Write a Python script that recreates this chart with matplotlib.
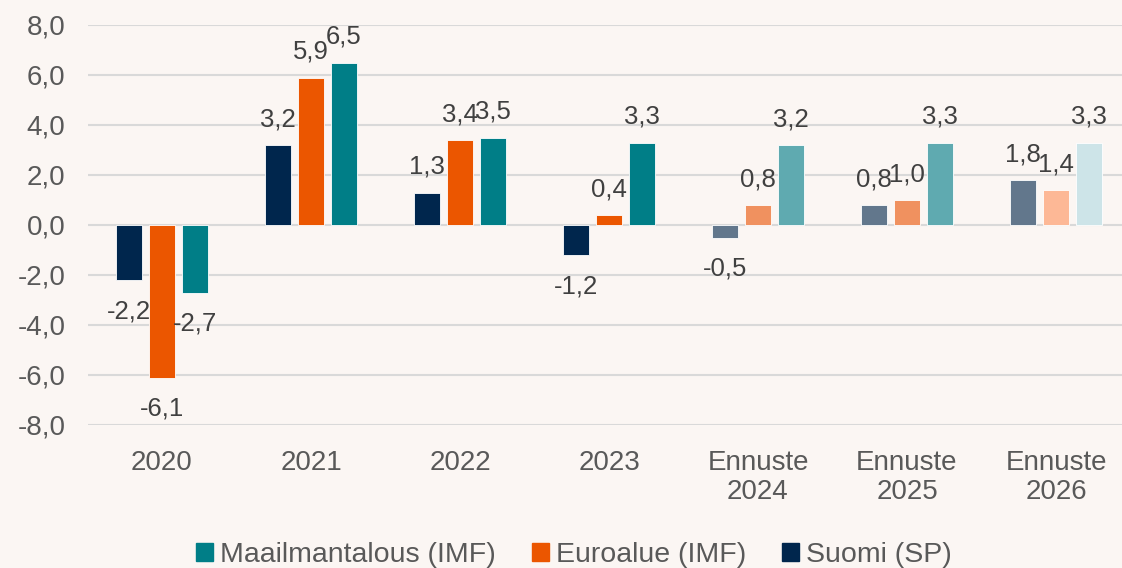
import matplotlib.pyplot as plt
import numpy as np

categories = ['2020', '2021', '2022', '2023', 'Ennuste\n2024', 'Ennuste\n2025', 'Ennuste\n2026']
suomi = [-2.2, 3.2, 1.3, -1.2, -0.5, 0.8, 1.8]
euroalue = [-6.1, 5.9, 3.4, 0.4, 0.8, 1.0, 1.4]
maailma = [-2.7, 6.5, 3.5, 3.3, 3.2, 3.3, 3.3]

# colours per year: actuals, forecast, last forecast lighter
suomi_colors = ['#00264D'] * 4 + ['#62778C'] * 3
euro_colors = ['#EB5600'] * 4 + ['#F0915F'] * 2 + ['#FDB896']
world_colors = ['#007E87'] * 4 + ['#5FAAB0'] * 2 + ['#CDE4E8']

bg = '#FBF6F3'
txt = '#595959'
plt.rcParams['font.family'] = ['Liberation Sans', 'DejaVu Sans']

fig = plt.figure(figsize=(11.22, 5.68), dpi=100, facecolor=bg)
ax = fig.add_axes([87.5 / 1122, 1 - 425 / 568, 1043 / 1122, 400 / 568], facecolor=bg)

x = np.arange(len(categories))
w = 0.1745
off = 0.2215
series = [
    (suomi, suomi_colors, -off),
    (euroalue, euro_colors, 0),
    (maailma, world_colors, off),
]
for vals, cols, dx in series:
    ax.bar(x + dx, vals, w, color=cols, edgecolor='white', linewidth=0.6, zorder=3)
    for xi, v in zip(x + dx, vals):
        lab = f'{v:.1f}'.replace('.', ',')
        if v >= 0:
            ax.annotate(lab, (xi, v), xytext=(0, 10), textcoords='offset points',
                        ha='center', va='bottom', fontsize=18.5, color='#404040')
        else:
            ax.annotate(lab, (xi, v), xytext=(0, -14), textcoords='offset points',
                        ha='center', va='top', fontsize=18.5, color='#404040')

ax.set_ylim(-8, 8)
ax.set_xlim(-0.5, len(categories) - 0.5)
ax.set_yticks(np.arange(-8, 9, 2))
ax.set_yticklabels([f'{t:.1f}'.replace('.', ',') for t in np.arange(-8, 9, 2)])
ax.set_xticks(x)
ax.set_xticklabels(categories, linespacing=1.15)
ax.tick_params(axis='both', length=0, labelsize=20, labelcolor=txt)
ax.tick_params(axis='x', pad=18)
ax.tick_params(axis='y', pad=16)
ax.grid(axis='y', color='#D9D9D9', linewidth=1.5, zorder=0)
for s in ax.spines.values():
    s.set_visible(False)

handles = [plt.Rectangle((0, 0), 1, 1, color=c) for c in ['#007E87', '#EB5600', '#00264D']]
fig.legend(handles, ['Maailmantalous (IMF)', 'Euroalue (IMF)', 'Suomi (SP)'],
           loc='center', bbox_to_anchor=(574 / 1122, 1 - 555 / 568), ncol=3, frameon=False,
           fontsize=20.5, labelcolor=txt, handlelength=0.6, handleheight=0.6,
           handletextpad=0.25, columnspacing=1.25, borderpad=0)

fig.savefig('out.png', dpi=100, facecolor=bg)
